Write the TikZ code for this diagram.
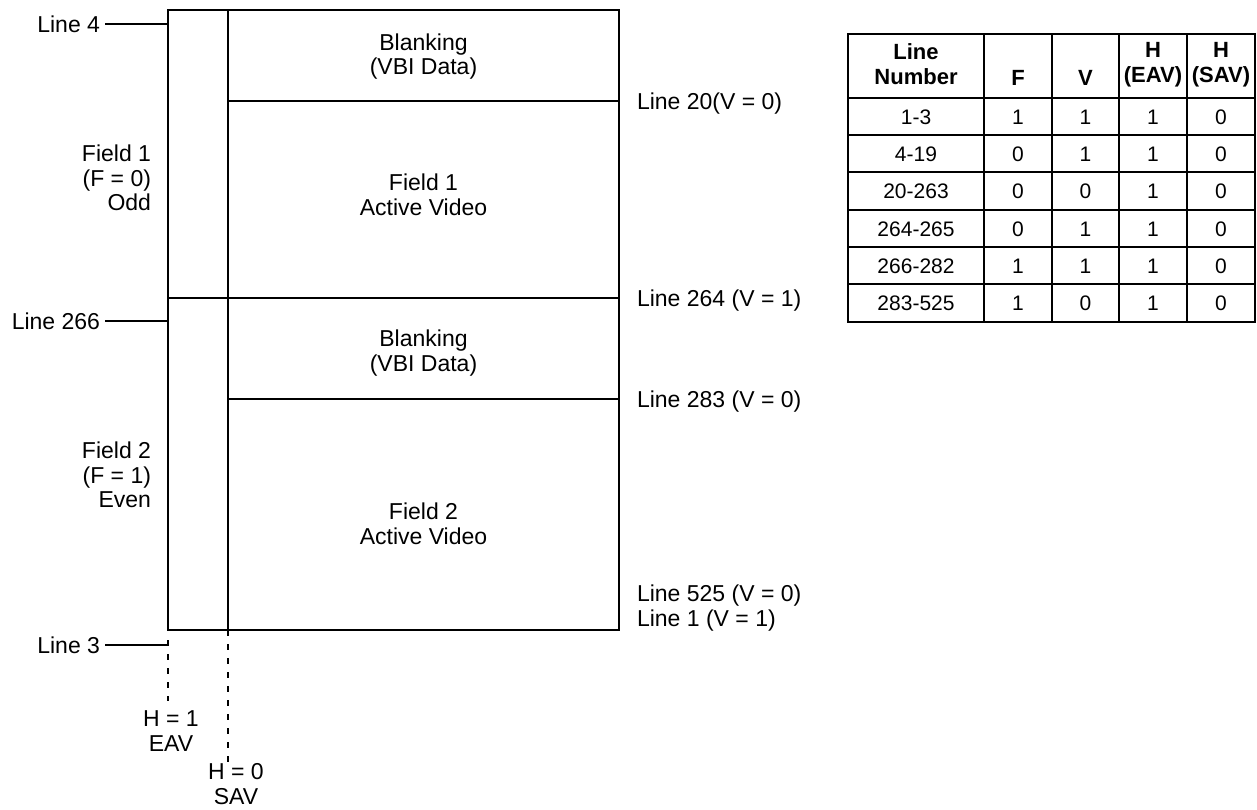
\documentclass[tikz,border=0pt]{standalone}
\usepackage{fontspec}
\setmainfont{Liberation Sans}
\usetikzlibrary{calc}
\begin{document}
\begin{tikzpicture}[x=0.5pt,y=-0.5pt,
  line width=1pt,
  lbl/.style={inner xsep=2pt,inner ysep=0pt,font=\fontsize{11.5}{12.25}\selectfont},
  one/.style={text height=8.3pt,text depth=0pt},
  tbl/.style={inner sep=0pt,text height=7.5pt,text depth=0pt,font=\fontsize{10.5}{12.5}\selectfont},
  th/.style={inner sep=0pt,font=\fontsize{11}{12.5}\selectfont\bfseries},
  dotline/.style={line width=1pt,dash pattern=on 3pt off 4pt}]
\useasboundingbox (0,0) rectangle (1257,809);

% main frame
\coordinate (TL) at (168,10);
\coordinate (BR) at (619,630);
\coordinate (BL) at (168,630);
\coordinate (IT) at (228,10);
\coordinate (IB) at (228,630);
\draw (TL) rectangle (BR);
\draw (IT) -- (IB);
\coordinate (h20a) at (228,101);  \coordinate (h20b) at (619,101);
\coordinate (h264a) at (168,298); \coordinate (h264b) at (619,298);
\coordinate (h283a) at (228,399); \coordinate (h283b) at (619,399);
\draw (h20a) -- (h20b);
\draw (h264a) -- (h264b);
\draw (h283a) -- (h283b);

% left line labels
\node[lbl,one,anchor=east] (l4) at (105,24) {Line 4};
\draw (l4.east) -- (l4.east -| TL);
\node[lbl,one,anchor=east] (l266) at (105,321) {Line 266};
\draw (l266.east) -- (l266.east -| TL);
\node[lbl,one,anchor=east] (l3) at (105,645) {Line 3};
\draw (l3.east) -- (l3.east -| TL);

% field labels
\node[lbl,align=right,anchor=east] (f1) at (156,178) {Field 1\\(F = 0)\\Odd};
\node[lbl,align=right,anchor=east] (f2) at (156,475) {Field 2\\(F = 1)\\Even};

% inner texts
\node[lbl,align=center] (b1) at (423.5,56.5) {Blanking\\(VBI Data)};
\node[lbl,align=center] (av1) at (423.5,195) {Field 1\\Active Video};
\node[lbl,align=center] (b2) at (423.5,353) {Blanking\\(VBI Data)};
\node[lbl,align=center] (av2) at (423.5,524) {Field 2\\Active Video};

% right labels
\node[lbl,one,anchor=west] (r20) at (632,101) {Line 20(V = 0)};
\node[lbl,one,anchor=west] (r264) at (632,298) {Line 264 (V = 1)};
\node[lbl,one,anchor=west] (r283) at (632,399) {Line 283 (V = 0)};
\node[lbl,align=left,anchor=west] (r525) at (632,608) {Line 525 (V = 0)\\Line 1 (V = 1)};

% H labels and dotted lines
\node[lbl,align=center] (h1) at (171,731) {H = 1\\EAV};
\node[lbl,align=center] (h0) at (236,784) {H = 0\\SAV};
\coordinate (e1) at (168,701);
\coordinate (e0) at (228,766);
\draw[dotline] ($(BL)+(0,10)$) -- (e1);
\draw[dotline] (IB) -- (e0);

% table
\draw (848,34) rectangle (1255,322);
\foreach \x in {984,1052,1119,1187} \draw (\x,34) -- (\x,322);
\foreach \y in {98,135,172,210,247,284} \draw (848,\y) -- (1255,\y);

\node[th,align=center] (thl) at (916,64.5) {Line\\Number};
\node[th,text height=8pt,text depth=0pt] (thf) at (1018,77) {F};
\node[th,text height=8pt,text depth=0pt] (thv) at (1085.5,77) {V};
\node[th,align=center] (the) at (1153,64.5) {H\\(EAV)};
\node[th,align=center] (ths) at (1221,64.5) {H\\(SAV)};

\foreach \y/\a/\b/\c/\d/\e [count=\i] in {116.5/1-3/1/1/1/0, 153.5/4-19/0/1/1/0, 191/20-263/0/0/1/0, 228.5/264-265/0/1/1/0, 265.5/266-282/1/1/1/0, 303/283-525/1/0/1/0} {
  \node[tbl] (c\i a) at (916,\y) {\a};
  \node[tbl] (c\i b) at (1018,\y) {\b};
  \node[tbl] (c\i c) at (1085.5,\y) {\c};
  \node[tbl] (c\i d) at (1153,\y) {\d};
  \node[tbl] (c\i e) at (1221,\y) {\e};
}
\end{tikzpicture}
\end{document}
